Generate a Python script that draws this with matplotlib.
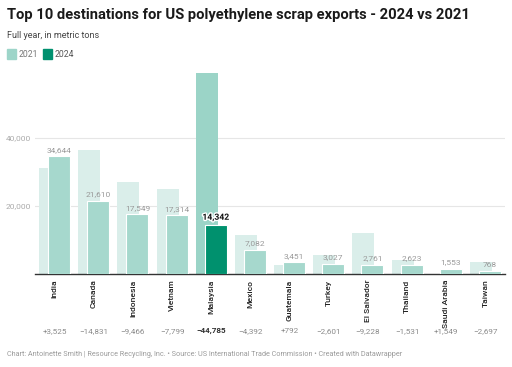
import matplotlib.pyplot as plt
import matplotlib.patheffects as pe
from matplotlib.transforms import blended_transform_factory

plt.rcParams['font.family'] = ['Roboto', 'DejaVu Sans']

countries = ['India', 'Canada', 'Indonesia', 'Vietnam', 'Malaysia', 'Mexico',
             'Guatemala', 'Turkey', 'El Salvador', 'Thailand', 'Saudi Arabia', 'Taiwan']
tons_2024 = [34644, 21610, 17549, 17314, 14342, 7082, 3451, 3027, 2761, 2623, 1553, 768]
tons_2021 = [31119, 36441, 27015, 25113, 59127, 11474, 2659, 5628, 11989, 4154, 4, 3465]
change = [3525, -14831, -9466, -7799, -44785, -4392, 792, -2601, -9228, -1531, 1549, -2697]
highlight = 'Malaysia'

W, H = 512, 367
fig = plt.figure(figsize=(W / 100, H / 100), dpi=100)

def px(x, y):
    return x / W, 1 - y / H

# axes placed in pixels: left 35, right 505, baseline 274, top 70
ax = fig.add_axes([35 / W, 1 - 274 / H, 470 / W, 204 / H])

x = list(range(len(countries)))
c21 = ['#9bd4c7' if c == highlight else '#daeeea' for c in countries]
c24 = ['#00916e' if c == highlight else '#a6d8cd' for c in countries]

ax.bar([i - 0.115 for i in x], tons_2021, width=0.56, color=c21, zorder=2)
ax.bar([i + 0.115 for i in x], tons_2024, width=0.56, color=c24,
       edgecolor='white', linewidth=0.8, zorder=3)

for i, (c, v) in enumerate(zip(countries, tons_2024)):
    if c == highlight:
        ax.annotate(f'{v:,}', (i + 0.115, v), xytext=(0, 2.5), textcoords='offset points',
                    ha='center', va='bottom', fontsize=6.2, color='#111', fontweight='bold',
                    path_effects=[pe.withStroke(linewidth=2, foreground='white')], zorder=5)
    else:
        ax.annotate(f'{v:,}', (i + 0.115, v), xytext=(0, 2.5), textcoords='offset points',
                    ha='center', va='bottom', fontsize=6.0, color='#999999', zorder=5)

ax.set_xlim(-0.5, len(countries) - 0.5)
ax.set_ylim(0, 60000)
ax.set_yticks([20000, 40000])
ax.set_yticklabels(['20,000', '40,000'], fontsize=6.0, color='#aaaaaa')
ax.grid(axis='y', color='#e6e6e6', linewidth=0.8, zorder=0)
ax.set_axisbelow(True)
ax.set_xticks(x)
ax.set_xticklabels(countries, rotation=90, fontsize=6.1, color='#222222',
                   fontweight='medium', va='top')
ax.tick_params(axis='both', length=0)
ax.tick_params(axis='x', pad=4)
ax.tick_params(axis='y', pad=3)
for s in ['top', 'right', 'left']:
    ax.spines[s].set_visible(False)
ax.spines['bottom'].set_color('#333333')
ax.spines['bottom'].set_linewidth(1)

# change row
trans = blended_transform_factory(ax.transData, fig.transFigure)
for i, (c, d) in enumerate(zip(countries, change)):
    s = ('+' if d > 0 else '\u2212') + f'{abs(d):,}'
    hl = c == highlight
    ax.text(i, 1 - 331 / H, s, transform=trans, ha='center', va='center',
            fontsize=5.9, color='#333333' if hl else '#8a8a8a',
            fontweight='bold' if hl else 'normal')

# header
fig.text(*px(7, 15.5), 'Top 10 destinations for US polyethylene scrap exports - 2024 vs 2021',
         fontsize=10.6, fontweight='bold', color='#1a1a1a', va='center', ha='left')
fig.text(*px(7, 36), 'Full year, in metric tons', fontsize=6.5, color='#444444',
         va='center', ha='left')

# legend
fig.patches.append(plt.Rectangle(px(7, 58.5), 9 / W, 9 / H, transform=fig.transFigure,
                                 color='#9dd5c9', figure=fig))
fig.text(*px(18.5, 54.5), '2021', fontsize=6.2, color='#777777', va='center', ha='left')
fig.patches.append(plt.Rectangle(px(43, 58.5), 9 / W, 9 / H, transform=fig.transFigure,
                                 color='#00906f', figure=fig))
fig.text(*px(54.5, 54.5), '2024', fontsize=6.2, color='#555555', va='center', ha='left')

# footer
fig.text(*px(7, 355), 'Chart: Antoinette Smith | Resource Recycling, Inc. \u2022 Source: US International '
         'Trade Commission \u2022 Created with Datawrapper', fontsize=5.25, color='#9a9a9a',
         va='center', ha='left')

fig.savefig('out.png', dpi=100, facecolor='white')
